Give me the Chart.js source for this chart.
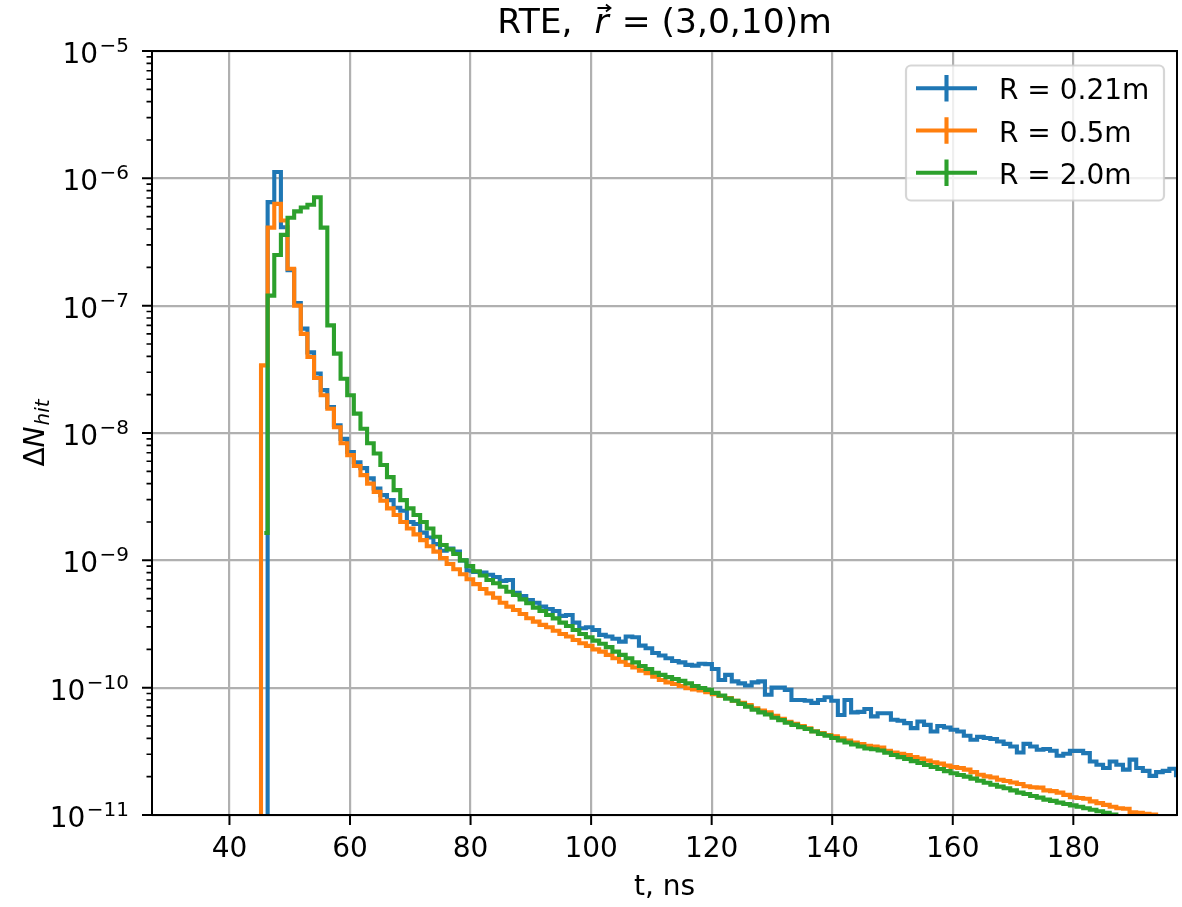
<!DOCTYPE html>
<html>
<head>
<meta charset="utf-8">
<title>RTE hit time distribution</title>
<script src="https://cdn.jsdelivr.net/npm/chart.js@4.4.1/dist/chart.umd.min.js"></script>
<style>
  html, body { margin: 0; padding: 0; background: #fff; }
  #wrap { width: 1182px; height: 907px; }
</style>
</head>
<body>
<div id="wrap"><canvas id="hitChart"></canvas></div>
<script>
// time bins (ns): centre of the first listed bin and the bin width
const firstBin = 44.685;
const binWidth = 1.1;

// empty bin just before the onset, sits below the axis floor
const EMPTY = 1e-13;

const seriesLabels = ['R = 0.21m', 'R = 0.5m', 'R = 2.0m'];
const seriesColors = ['#1f77b4', '#ff7f0e', '#2ca02c'];

// ΔN_hit per bin, one array per detector radius
const hitsR021 = [null, EMPTY,
  6.5e-7, 1.12e-6, 4.13e-7, 1.9e-7, 1.05e-7, 6.6e-8, 4.3e-8, 2.93e-8, 2.17e-8, 1.6e-8,
  1.15e-8, 9.0e-9, 7.1e-9, 5.9e-9, 5.3e-9, 4.4e-9, 3.67e-9, 3.25e-9, 2.97e-9, 2.59e-9,
  2.45e-9, 2.0e-9, 1.93e-9, 1.65e-9, 1.51e-9, 1.34e-9, 1.19e-9, 1.24e-9, 1.17e-9, 1.0e-9,
  8.3e-10, 8.1e-10, 8.0e-10, 7.7e-10, 7.4e-10, 6.9e-10, 7.0e-10, 5.57e-10, 5.25e-10, 4.88e-10,
  4.65e-10, 4.33e-10, 4.15e-10, 4.0e-10, 3.66e-10, 3.72e-10, 3.24e-10, 2.93e-10, 2.98e-10, 2.84e-10,
  2.6e-10, 2.52e-10, 2.42e-10, 2.3e-10, 2.52e-10, 2.49e-10, 2.14e-10, 2.04e-10, 1.87e-10, 1.79e-10,
  1.7e-10, 1.62e-10, 1.58e-10, 1.51e-10, 1.49e-10, 1.54e-10, 1.53e-10, 1.4e-10, 1.15e-10, 1.26e-10,
  1.12e-10, 1.08e-10, 1.04e-10, 1.1e-10, 1.12e-10, 8.8e-11, 1.0e-10, 1.0e-10, 9.6e-11, 8.0e-11,
  8.0e-11, 7.9e-11, 7.6e-11, 8.0e-11, 8.4e-11, 7.9e-11, 6.1e-11, 8.0e-11, 6.4e-11, 6.45e-11,
  6.8e-11, 5.95e-11, 6.3e-11, 6.3e-11, 5.6e-11, 5.5e-11, 5.27e-11, 4.81e-11, 5.42e-11, 5.1e-11,
  4.53e-11, 5.0e-11, 4.86e-11, 4.67e-11, 4.53e-11, 4.19e-11, 3.9e-11, 4.11e-11, 4.02e-11, 3.95e-11,
  3.78e-11, 3.62e-11, 3.45e-11, 3.1e-11, 3.62e-11, 3.45e-11, 3.25e-11, 3.3e-11, 3.2e-11, 2.92e-11,
  3.03e-11, 3.19e-11, 3.19e-11, 3.06e-11, 2.63e-11, 2.48e-11, 2.34e-11, 2.63e-11, 2.48e-11, 2.27e-11,
  2.72e-11, 2.34e-11, 2.22e-11, 2.03e-11, 2.17e-11, 2.22e-11, 2.31e-11, 2.05e-11];

const hitsR05 = [EMPTY, 3.4e-8,
  4.1e-7, 6.3e-7, 4.67e-7, 1.95e-7, 1.0e-7, 6.0e-8, 3.95e-8, 2.7e-8, 1.98e-8, 1.55e-8,
  1.11e-8, 8.3e-9, 6.7e-9, 5.5e-9, 4.67e-9, 4.0e-9, 3.45e-9, 2.94e-9, 2.56e-9, 2.27e-9,
  2.0e-9, 1.78e-9, 1.6e-9, 1.44e-9, 1.29e-9, 1.17e-9, 1.04e-9, 9.35e-10, 8.5e-10, 7.77e-10,
  7.1e-10, 6.5e-10, 5.96e-10, 5.5e-10, 5.08e-10, 4.65e-10, 4.33e-10, 4.07e-10, 3.79e-10, 3.51e-10,
  3.3e-10, 3.11e-10, 2.98e-10, 2.8e-10, 2.64e-10, 2.52e-10, 2.37e-10, 2.23e-10, 2.13e-10, 2.0e-10,
  1.92e-10, 1.81e-10, 1.7e-10, 1.6e-10, 1.51e-10, 1.44e-10, 1.36e-10, 1.3e-10, 1.22e-10, 1.15e-10,
  1.1e-10, 1.07e-10, 1.03e-10, 9.9e-11, 9.7e-11, 9.5e-11, 9.2e-11, 8.9e-11, 8.6e-11, 8.3e-11,
  7.9e-11, 7.6e-11, 7.3e-11, 6.9e-11, 6.6e-11, 6.4e-11, 6.0e-11, 5.7e-11, 5.4e-11, 5.2e-11,
  5.0e-11, 4.8e-11, 4.55e-11, 4.4e-11, 4.25e-11, 4.15e-11, 4.0e-11, 3.85e-11, 3.7e-11, 3.6e-11,
  3.5e-11, 3.45e-11, 3.38e-11, 3.19e-11, 3.1e-11, 3.03e-11, 2.96e-11, 2.85e-11, 2.77e-11, 2.68e-11,
  2.59e-11, 2.53e-11, 2.44e-11, 2.38e-11, 2.34e-11, 2.27e-11, 2.17e-11, 2.07e-11, 2.01e-11, 1.97e-11,
  1.89e-11, 1.85e-11, 1.8e-11, 1.75e-11, 1.68e-11, 1.65e-11, 1.64e-11, 1.56e-11, 1.54e-11, 1.5e-11,
  1.44e-11, 1.38e-11, 1.36e-11, 1.34e-11, 1.28e-11, 1.24e-11, 1.2e-11, 1.16e-11, 1.13e-11, 1.12e-11,
  1.05e-11, 1.04e-11, 1.02e-11, 1.01e-11, 9.8e-12];

const hitsR20 = [null, 1.64e-9,
  1.2e-7, 2.5e-7, 3.6e-7, 4.9e-7, 5.5e-7, 5.9e-7, 6.2e-7, 7.1e-7, 4.1e-7, 7.0e-8,
  4.2e-8, 2.67e-8, 1.98e-8, 1.42e-8, 1.08e-8, 8.3e-9, 6.9e-9, 5.6e-9, 4.5e-9, 3.56e-9,
  2.97e-9, 2.56e-9, 2.27e-9, 2.0e-9, 1.78e-9, 1.53e-9, 1.32e-9, 1.22e-9, 1.12e-9, 1.0e-9,
  9.0e-10, 8.2e-10, 7.6e-10, 7.0e-10, 6.6e-10, 6.2e-10, 5.67e-10, 5.35e-10, 4.94e-10, 4.6e-10,
  4.25e-10, 4.0e-10, 3.72e-10, 3.5e-10, 3.24e-10, 3.05e-10, 2.84e-10, 2.64e-10, 2.49e-10, 2.34e-10,
  2.21e-10, 2.08e-10, 1.92e-10, 1.81e-10, 1.7e-10, 1.58e-10, 1.48e-10, 1.4e-10, 1.31e-10, 1.26e-10,
  1.21e-10, 1.17e-10, 1.13e-10, 1.08e-10, 1.03e-10, 9.95e-11, 9.6e-11, 9.1e-11, 8.67e-11, 8.2e-11,
  7.9e-11, 7.46e-11, 7.1e-11, 6.7e-11, 6.4e-11, 6.15e-11, 5.8e-11, 5.56e-11, 5.3e-11, 5.1e-11,
  4.9e-11, 4.73e-11, 4.53e-11, 4.34e-11, 4.19e-11, 4.02e-11, 3.85e-11, 3.71e-11, 3.58e-11, 3.45e-11,
  3.33e-11, 3.28e-11, 3.21e-11, 3.08e-11, 2.96e-11, 2.85e-11, 2.75e-11, 2.65e-11, 2.56e-11, 2.47e-11,
  2.38e-11, 2.3e-11, 2.21e-11, 2.13e-11, 2.06e-11, 2.0e-11, 1.93e-11, 1.86e-11, 1.79e-11, 1.73e-11,
  1.67e-11, 1.62e-11, 1.56e-11, 1.5e-11, 1.46e-11, 1.41e-11, 1.37e-11, 1.32e-11, 1.29e-11, 1.25e-11,
  1.22e-11, 1.19e-11, 1.16e-11, 1.13e-11, 1.1e-11, 1.07e-11, 1.04e-11, 1.01e-11, 9.8e-12];

// axes
const xRange = [27.15, 197.2];
const xTicks = [40, 60, 80, 100, 120, 140, 160, 180];
const yPowers = [-11, -10, -9, -8, -7, -6, -5];

const FONT = "'DejaVu Sans', 'Liberation Sans', sans-serif";
const FS = 28;
const LINE_W = 4.1;

function toPoints(vals) {
  return vals.map((v, i) => ({ x: firstBin + i * binWidth, y: v }));
}

// draw a row of text pieces (own font / baseline shift each) starting at x
function drawPieces(ctx, pieces, x, y) {
  pieces.forEach(p => {
    ctx.font = p.font;
    ctx.fillText(p.text, x, y + (p.dy || 0));
    p.x = x;
    p.w = ctx.measureText(p.text).width;
    x += p.w + (p.gap || 0);
  });
}
function piecesWidth(ctx, pieces) {
  return pieces.reduce((s, p) => { ctx.font = p.font; return s + ctx.measureText(p.text).width + (p.gap || 0); }, 0);
}

// frame, ticks, labels, title and legend in matplotlib style
const decor = {
  id: 'decor',
  afterDraw(chart) {
    const { ctx, chartArea: a } = chart;
    const xs = chart.scales.x, ys = chart.scales.y;
    ctx.save();
    ctx.fillStyle = '#000';
    ctx.strokeStyle = '#000';

    // spines
    ctx.lineWidth = 2;
    ctx.strokeRect(a.left, a.top, a.right - a.left, a.bottom - a.top);

    // major ticks
    ctx.beginPath();
    xTicks.forEach(v => {
      const px = xs.getPixelForValue(v);
      ctx.moveTo(px, a.bottom); ctx.lineTo(px, a.bottom + 10);
    });
    yPowers.forEach(p => {
      const py = ys.getPixelForValue(Math.pow(10, p));
      ctx.moveTo(a.left - 10, py); ctx.lineTo(a.left, py);
    });
    ctx.stroke();

    // minor log ticks
    ctx.lineWidth = 1.6;
    ctx.beginPath();
    for (let p = yPowers[0]; p < yPowers[yPowers.length - 1]; p++) {
      for (let m = 2; m <= 9; m++) {
        const py = ys.getPixelForValue(m * Math.pow(10, p));
        ctx.moveTo(a.left - 5.5, py); ctx.lineTo(a.left, py);
      }
    }
    ctx.stroke();

    // x tick labels
    ctx.font = `${FS}px ${FONT}`;
    ctx.textAlign = 'center';
    ctx.textBaseline = 'alphabetic';
    xTicks.forEach(v => ctx.fillText(String(v), xs.getPixelForValue(v), 857));

    // y tick labels 10^p
    ctx.textAlign = 'left';
    const supFont = `${Math.round(FS * 0.7)}px ${FONT}`;
    yPowers.forEach(p => {
      const py = ys.getPixelForValue(Math.pow(10, p));
      const sup = '\u2212' + Math.abs(p);
      ctx.font = supFont;
      const sw = ctx.measureText(sup).width;
      ctx.font = `${FS}px ${FONT}`;
      const bw = ctx.measureText('10').width;
      const xEnd = 129;
      ctx.fillText('10', xEnd - sw - bw - 1.5, py + 12);
      ctx.font = supFont;
      ctx.fillText(sup, xEnd - sw, py + 1);
    });

    // x axis label
    ctx.font = `${FS}px ${FONT}`;
    ctx.textAlign = 'center';
    ctx.fillText('t, ns', (a.left + a.right) / 2, 895);

    // y axis label, rotated
    ctx.save();
    ctx.translate(44, (a.top + a.bottom) / 2);
    ctx.rotate(-Math.PI / 2);
    ctx.textAlign = 'left';
    const yl = [
      { text: '\u0394', font: `${FS}px ${FONT}` },
      { text: 'N', font: `italic ${FS}px ${FONT}`, gap: 1 },
      { text: 'hit', font: `italic ${Math.round(FS * 0.7)}px ${FONT}`, dy: 5 },
    ];
    drawPieces(ctx, yl, -piecesWidth(ctx, yl) / 2, 0);
    ctx.restore();

    // title with vector r
    const tf = 34.5;
    const title = [
      { text: 'RTE,  ', font: `${tf}px ${FONT}` },
      { text: 'r', font: `italic ${tf}px ${FONT}`, gap: 2 },
      { text: ' = (3,0,10)m', font: `${tf}px ${FONT}` },
    ];
    ctx.textAlign = 'left';
    drawPieces(ctx, title, (a.left + a.right) / 2 - piecesWidth(ctx, title) / 2, 33);
    const r = title[1];
    const ax0 = r.x + 3, ax1 = r.x + 15.5, ay = 8;
    ctx.lineWidth = 1.8;
    ctx.beginPath();
    ctx.moveTo(ax0, ay); ctx.lineTo(ax1, ay);
    ctx.moveTo(ax1 - 4, ay - 3.5); ctx.lineTo(ax1 + 0.5, ay); ctx.lineTo(ax1 - 4, ay + 3.5);
    ctx.stroke();

    // legend
    const bx = 906, by = 65.5, bw2 = 258, bh = 135, rad = 5;
    ctx.beginPath();
    ctx.roundRect(bx, by, bw2, bh, rad);
    ctx.fillStyle = 'rgba(255,255,255,0.8)';
    ctx.fill();
    ctx.strokeStyle = 'rgba(204,204,204,0.8)';
    ctx.lineWidth = 2.2;
    ctx.stroke();
    ctx.font = `${FS}px ${FONT}`;
    ctx.textAlign = 'left';
    chart.data.datasets.forEach((ds, i) => {
      const ry = 88.3 + i * 42.2;
      ctx.strokeStyle = ds.borderColor;
      ctx.lineWidth = LINE_W;
      ctx.beginPath();
      ctx.moveTo(916, ry); ctx.lineTo(977, ry);
      ctx.moveTo(946.5, ry - 13.3); ctx.lineTo(946.5, ry + 13.3);
      ctx.stroke();
      ctx.fillStyle = '#000';
      ctx.fillText(ds.label, 999, ry + 11);
    });

    ctx.restore();
  }
};

new Chart(document.getElementById('hitChart'), {
  type: 'line',
  data: {
    datasets: [hitsR021, hitsR05, hitsR20].map((vals, i) => ({
      label: seriesLabels[i],
      data: toPoints(vals),
      borderColor: seriesColors[i],
      backgroundColor: seriesColors[i],
      borderWidth: LINE_W,
      borderJoinStyle: 'miter',
      stepped: 'middle',
      pointRadius: 0,
      fill: false,
      clip: 0,
      order: 3 - i,
    })),
  },
  options: {
    animation: false,
    responsive: true,
    maintainAspectRatio: false,
    layout: { padding: { top: 51, right: 5, left: 0, bottom: 0 } },
    plugins: {
      legend: { display: false },
      title: { display: false },
      tooltip: { enabled: false },
    },
    scales: {
      x: {
        type: 'linear',
        min: xRange[0],
        max: xRange[1],
        afterBuildTicks: s => { s.ticks = xTicks.map(v => ({ value: v })); },
        afterFit: s => { s.height = 92; },
        ticks: { display: false },
        grid: { color: '#b0b0b0', lineWidth: 2.2, drawTicks: false },
        border: { display: false },
      },
      y: {
        type: 'logarithmic',
        min: 1e-11,
        max: 1e-5,
        afterBuildTicks: s => { s.ticks = yPowers.map(p => ({ value: Math.pow(10, p) })); },
        afterFit: s => { s.width = 152; },
        ticks: { display: false },
        grid: { color: '#b0b0b0', lineWidth: 2.2, drawTicks: false },
        border: { display: false },
      },
    },
  },
  plugins: [decor],
});
</script>
</body>
</html>
